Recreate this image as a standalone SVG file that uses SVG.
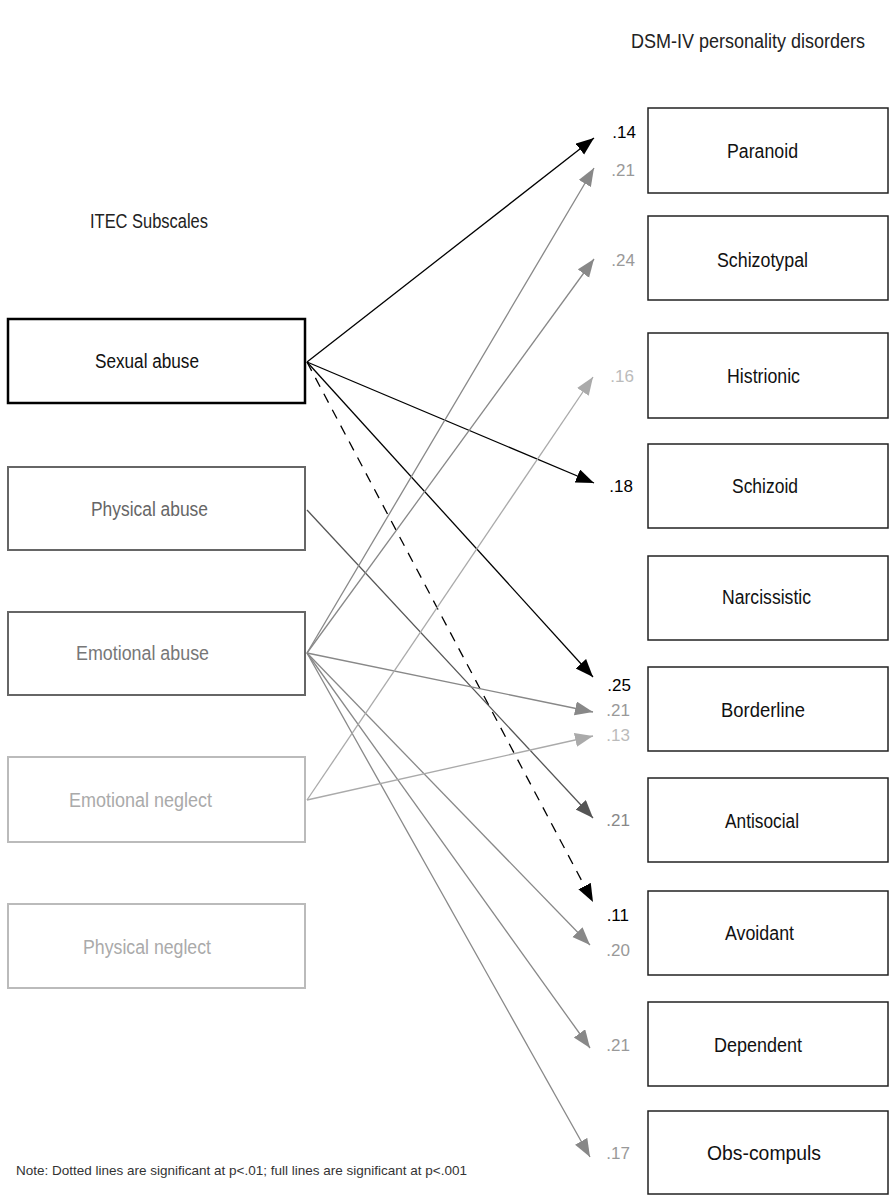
<svg xmlns="http://www.w3.org/2000/svg" width="890" height="1195" viewBox="0 0 890 1195">
<style>
text{font-family:"Liberation Sans",Arial,sans-serif;font-size:20px}
.lbl{text-anchor:middle}
.num{text-anchor:end;font-size:17px}
.rbox{fill:#fff;stroke:#222;stroke-width:1.5}
.c{fill:none;stroke-width:1.3}
</style>
<defs>
<marker id="mk" markerUnits="userSpaceOnUse" markerWidth="19" markerHeight="15" refX="18" refY="7" orient="auto"><path d="M0,0 L18,7 L0,14 z" fill="#000"/></marker>
<marker id="md" markerUnits="userSpaceOnUse" markerWidth="19" markerHeight="15" refX="18" refY="7" orient="auto"><path d="M0,0 L18,7 L0,14 z" fill="#555"/></marker>
<marker id="mg" markerUnits="userSpaceOnUse" markerWidth="19" markerHeight="15" refX="18" refY="7" orient="auto"><path d="M0,0 L18,7 L0,14 z" fill="#888"/></marker>
<marker id="ml" markerUnits="userSpaceOnUse" markerWidth="19" markerHeight="15" refX="18" refY="7" orient="auto"><path d="M0,0 L18,7 L0,14 z" fill="#aaa"/></marker>
</defs>
<rect width="890" height="1195" fill="#fff"/>
<text x="748" y="48" class="lbl" fill="#222" textLength="234" lengthAdjust="spacingAndGlyphs">DSM-IV personality disorders</text>
<text x="149" y="228" class="lbl" fill="#222" textLength="118" lengthAdjust="spacingAndGlyphs">ITEC Subscales</text>
<g id="connectors">
<line class="c" x1="307" y1="362" x2="594" y2="138" stroke="#000" marker-end="url(#mk)"/>
<line class="c" x1="307" y1="362" x2="594" y2="483" stroke="#000" marker-end="url(#mk)"/>
<line class="c" x1="307" y1="362" x2="593" y2="677" stroke="#000" marker-end="url(#mk)"/>
<line class="c" x1="307" y1="362" x2="593" y2="902" stroke="#000" stroke-dasharray="10,8" marker-end="url(#mk)"/>
<line class="c" x1="307" y1="510" x2="593" y2="818" stroke="#555" marker-end="url(#md)"/>
<line class="c" x1="307" y1="653" x2="594" y2="168" stroke="#888" marker-end="url(#mg)"/>
<line class="c" x1="307" y1="653" x2="594" y2="259" stroke="#888" marker-end="url(#mg)"/>
<line class="c" x1="307" y1="653" x2="593" y2="712" stroke="#888" marker-end="url(#mg)"/>
<line class="c" x1="307" y1="653" x2="590" y2="945" stroke="#888" marker-end="url(#mg)"/>
<line class="c" x1="307" y1="653" x2="590" y2="1048" stroke="#888" marker-end="url(#mg)"/>
<line class="c" x1="307" y1="653" x2="590" y2="1157" stroke="#888" marker-end="url(#mg)"/>
<line class="c" x1="307" y1="800" x2="593" y2="377" stroke="#aaa" marker-end="url(#ml)"/>
<line class="c" x1="307" y1="800" x2="593" y2="736" stroke="#aaa" marker-end="url(#ml)"/>
</g>
<g id="sexual-abuse"><rect x="8" y="319" width="297" height="84" fill="#fff" stroke="#000" stroke-width="2.5"/><text x="147" y="368" class="lbl" fill="#111" textLength="104" lengthAdjust="spacingAndGlyphs">Sexual abuse</text></g>
<g id="physical-abuse"><rect x="8" y="467" width="297" height="83" fill="#fff" stroke="#666" stroke-width="2"/><text x="149.5" y="516" class="lbl" fill="#666" textLength="117" lengthAdjust="spacingAndGlyphs">Physical abuse</text></g>
<g id="emotional-abuse"><rect x="8" y="612" width="297" height="83" fill="#fff" stroke="#666" stroke-width="2"/><text x="142.5" y="660" class="lbl" fill="#777" textLength="133" lengthAdjust="spacingAndGlyphs">Emotional abuse</text></g>
<g id="emotional-neglect"><rect x="8" y="757" width="297" height="85" fill="#fff" stroke="#bbb" stroke-width="2"/><text x="140.5" y="807" class="lbl" fill="#aaa" textLength="143" lengthAdjust="spacingAndGlyphs">Emotional neglect</text></g>
<g id="physical-neglect"><rect x="8" y="904" width="297" height="84" fill="#fff" stroke="#bbb" stroke-width="2"/><text x="147" y="954" class="lbl" fill="#aaa" textLength="128" lengthAdjust="spacingAndGlyphs">Physical neglect</text></g>
<g id="paranoid"><rect class="rbox" x="648" y="108" width="240" height="85"/><text x="762.5" y="158" class="lbl" fill="#111" textLength="71" lengthAdjust="spacingAndGlyphs">Paranoid</text></g>
<g id="schizotypal"><rect class="rbox" x="648" y="216" width="240" height="84"/><text x="762.5" y="267" class="lbl" fill="#111" textLength="91" lengthAdjust="spacingAndGlyphs">Schizotypal</text></g>
<g id="histrionic"><rect class="rbox" x="648" y="333" width="240" height="85"/><text x="763.5" y="383" class="lbl" fill="#111" textLength="73" lengthAdjust="spacingAndGlyphs">Histrionic</text></g>
<g id="schizoid"><rect class="rbox" x="648" y="444" width="240" height="84"/><text x="765" y="493" class="lbl" fill="#111" textLength="66" lengthAdjust="spacingAndGlyphs">Schizoid</text></g>
<g id="narcissistic"><rect class="rbox" x="648" y="556" width="240" height="84"/><text x="766.5" y="604" class="lbl" fill="#111" textLength="89" lengthAdjust="spacingAndGlyphs">Narcissistic</text></g>
<g id="borderline"><rect class="rbox" x="648" y="667" width="240" height="84"/><text x="763" y="717" class="lbl" fill="#111" textLength="84" lengthAdjust="spacingAndGlyphs">Borderline</text></g>
<g id="antisocial"><rect class="rbox" x="648" y="778" width="240" height="84"/><text x="762" y="828" class="lbl" fill="#111" textLength="74" lengthAdjust="spacingAndGlyphs">Antisocial</text></g>
<g id="avoidant"><rect class="rbox" x="648" y="891" width="240" height="84"/><text x="759.5" y="940" class="lbl" fill="#111" textLength="69" lengthAdjust="spacingAndGlyphs">Avoidant</text></g>
<g id="dependent"><rect class="rbox" x="648" y="1002" width="240" height="84"/><text x="758" y="1052" class="lbl" fill="#111" textLength="88" lengthAdjust="spacingAndGlyphs">Dependent</text></g>
<g id="obs-compuls"><rect class="rbox" x="648" y="1111" width="240" height="83"/><text x="764" y="1160" class="lbl" fill="#111" textLength="114" lengthAdjust="spacingAndGlyphs">Obs-compuls</text></g>
<g id="coefficients">
<text x="636" y="138" class="num" fill="#000">.14</text>
<text x="635" y="176" class="num" fill="#999">.21</text>
<text x="635" y="266" class="num" fill="#999">.24</text>
<text x="634" y="382" class="num" fill="#bbb">.16</text>
<text x="633" y="492" class="num" fill="#000">.18</text>
<text x="631" y="691" class="num" fill="#000">.25</text>
<text x="630" y="716" class="num" fill="#999">.21</text>
<text x="630" y="741" class="num" fill="#bbb">.13</text>
<text x="630" y="826" class="num" fill="#888">.21</text>
<text x="629" y="921" class="num" fill="#000">.11</text>
<text x="630" y="956" class="num" fill="#999">.20</text>
<text x="630" y="1051" class="num" fill="#999">.21</text>
<text x="630" y="1159" class="num" fill="#999">.17</text>
</g>
<text x="16" y="1175" style="font-size:13.5px" fill="#333">Note: Dotted lines are significant at p&lt;.01; full lines are significant at p&lt;.001</text>
</svg>
